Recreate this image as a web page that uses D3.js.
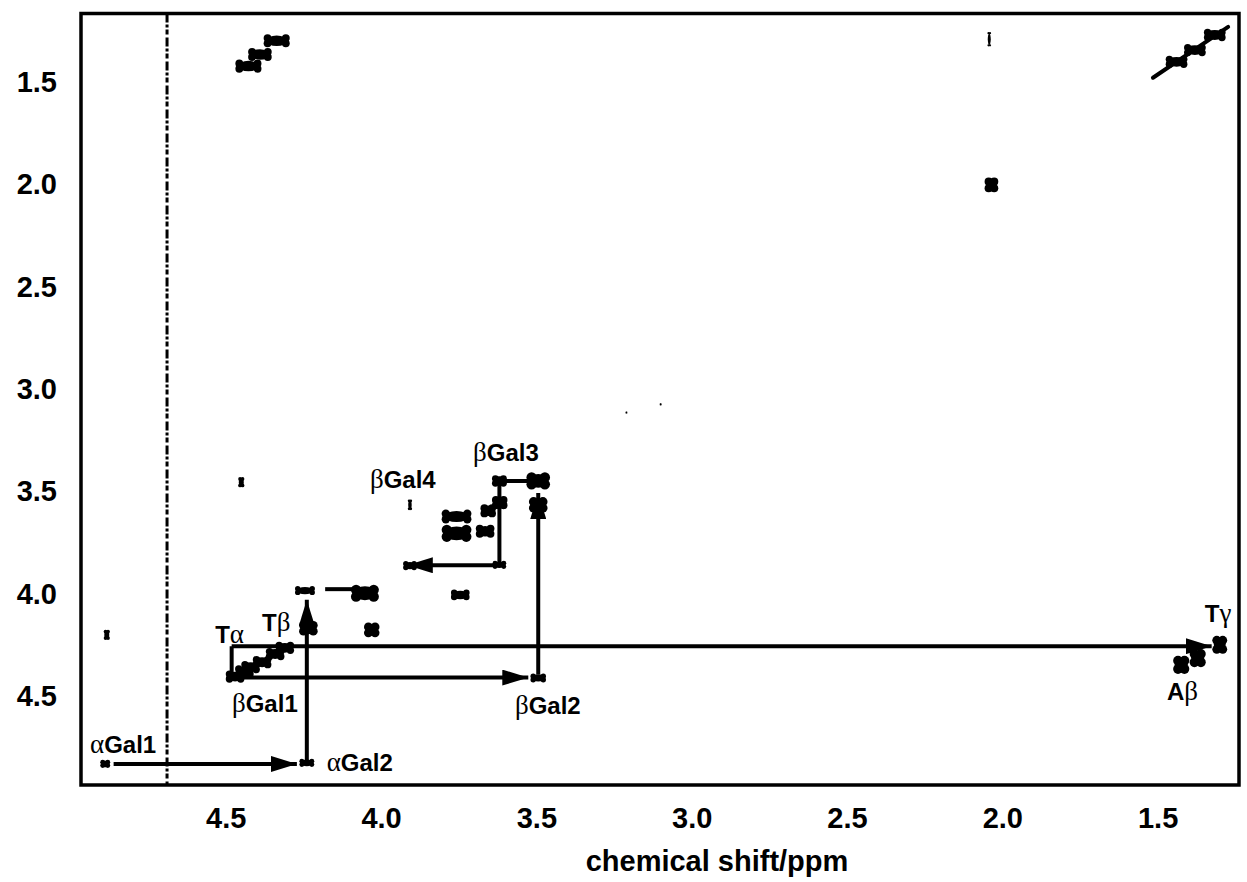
<!DOCTYPE html>
<html>
<head>
<meta charset="utf-8">
<script src="https://cdn.jsdelivr.net/npm/d3@7"></script>
<style>
  body { margin: 0; background: #fff; }
  svg text { font-family: "Liberation Sans", Arial, sans-serif; font-weight: bold; fill: #000; }
  .greek { font-family: "Liberation Serif", "DejaVu Serif", serif; font-weight: normal; }
</style>
</head>
<body>
<div id="container"></div>
<script>
// Ejes: desplazamiento químico (ppm), ambos invertidos como en un espectro 2D
const WIDTH = 1247;
const HEIGHT = 882;
const FRAME = { LEFT: 81, RIGHT: 1239, TOP: 13.5, BOTTOM: 785 };

const xTicksMajor = [4.5, 4.0, 3.5, 3.0, 2.5, 2.0, 1.5];
const xTicksMinor = [4.75, 4.25, 3.75, 3.25, 2.75, 2.25, 1.75];
const yTicksMajor = [1.5, 2.0, 2.5, 3.0, 3.5, 4.0, 4.5];
const yTicksMinor = [1.25, 1.75, 2.25, 2.75, 3.25, 3.75, 4.25, 4.75];
const xLabel = 'chemical shift/ppm';

// picos de correlación: [F2 ppm, F1 ppm, semiancho F2, semiancho F1]
const peakX  = [4.888, 4.239, 4.883, 4.336, 4.390, 4.427, 1.316, 1.380, 1.439, 2.042, 2.035,
                3.619, 3.494, 3.494, 3.618, 3.655, 3.757, 3.757, 3.665, 3.619, 3.907, 3.907,
                3.745, 4.245, 4.052, 4.030, 4.234, 4.470, 4.440, 4.420, 4.383, 4.341, 4.310,
                3.494, 1.300, 1.424, 1.371, 4.450, 3.210, 3.100];
const peakY  = [4.837, 4.832, 4.206, 1.303, 1.370, 1.427, 1.275, 1.349, 1.406, 1.296, 2.008,
                3.454, 3.454, 3.571, 3.560, 3.600, 3.628, 3.710, 3.700, 3.864, 3.868, 3.571,
                4.011, 3.990, 4.003, 4.182, 4.174, 4.410, 4.385, 4.364, 4.340, 4.300, 4.270,
                4.417, 4.255, 4.353, 4.320, 3.460, 3.120, 3.080];
const peakWx = [0.016, 0.024, 0.010, 0.042, 0.038, 0.042, 0.035, 0.035, 0.035, 0.006, 0.022,
                0.024, 0.038, 0.030, 0.025, 0.025, 0.048, 0.048, 0.030, 0.022, 0.022, 0.007,
                0.030, 0.032, 0.045, 0.025, 0.030, 0.030, 0.030, 0.030, 0.030, 0.030, 0.030,
                0.025, 0.024, 0.026, 0.026, 0.010, 0.003, 0.003];
const peakWy = [0.020, 0.020, 0.025, 0.032, 0.032, 0.032, 0.030, 0.030, 0.030, 0.035, 0.036,
                0.028, 0.042, 0.038, 0.032, 0.032, 0.034, 0.042, 0.032, 0.020, 0.022, 0.026,
                0.026, 0.022, 0.042, 0.036, 0.036, 0.030, 0.030, 0.030, 0.030, 0.030, 0.030,
                0.022, 0.044, 0.044, 0.044, 0.025, 0.005, 0.005];

// cresta diagonal arriba a la derecha
const diagRidge = [[1.515, 1.484], [1.273, 1.235]];
// señal de agua (HDO)
const waterShift = 4.689;

// conectividades: [x1, y1, x2, y2, flecha]
const arrows = [
  [4.861, 4.837, 4.271, 4.837, true],
  [4.239, 4.820, 4.239, 4.035, true],
  [4.180, 3.983, 4.089, 3.983, false],
  [4.481, 4.426, 4.481, 4.262, false],
  [4.481, 4.262, 1.326, 4.262, true],
  [4.497, 4.415, 3.526, 4.415, true],
  [3.494, 4.400, 3.494, 3.513, true],
  [3.619, 3.454, 3.494, 3.454, false],
  [3.619, 3.454, 3.619, 3.864, false],
  [3.619, 3.866, 3.917, 3.866, true]
];

// etiquetas de asignación
const labelGreek = ['α', 'α', 'T', 'T', 'β', 'β', 'β', 'β', 'T', 'A'];
const labelText  = ['Gal1', 'Gal2', 'α', 'β', 'Gal1', 'Gal2', 'Gal3', 'Gal4', 'γ', 'β'];
const labelGreekFirst = [true, true, false, false, true, true, true, true, false, false];
const labelX = [4.937, 4.175, 4.534, 4.383, 4.480, 3.569, 3.704, 4.036, 1.348, 1.470];
const labelY = [4.783, 4.871, 4.246, 4.187, 4.583, 4.593, 3.356, 3.488, 4.143, 4.524];

const x = d3.scaleLinear().domain([4.966, 1.238]).range([FRAME.LEFT, FRAME.RIGHT]);
const y = d3.scaleLinear().domain([1.170, 4.940]).range([FRAME.TOP, FRAME.BOTTOM]);

const svg = d3.select('#container')
              .append('svg')
                .attr('width', WIDTH)
                .attr('height', HEIGHT);

svg.append('defs').append('marker')
   .attr('id', 'head')
   .attr('markerUnits', 'userSpaceOnUse')
   .attr('viewBox', '0 0 26 16')
   .attr('refX', 26).attr('refY', 8)
   .attr('markerWidth', 26).attr('markerHeight', 16)
   .attr('orient', 'auto')
 .append('path')
   .attr('d', 'M0,0 L26,8 L0,16 Z')
   .attr('fill', '#000');

// línea de agua punteada
svg.append('line')
   .attr('x1', x(waterShift)).attr('x2', x(waterShift))
   .attr('y1', FRAME.TOP).attr('y2', FRAME.BOTTOM)
   .attr('stroke', '#000').attr('stroke-width', 3)
   .attr('stroke-dasharray', '9 2 3 2 5 3');

// cresta diagonal
svg.append('line')
   .attr('x1', x(diagRidge[0][0])).attr('y1', y(diagRidge[0][1]))
   .attr('x2', x(diagRidge[1][0])).attr('y2', y(diagRidge[1][1]))
   .attr('stroke', '#000').attr('stroke-width', 4).attr('stroke-linecap', 'round');

// picos: núcleo elíptico más cuatro lóbulos (borde festoneado del contorno)
const peaks = peakX.map((d, i) => ({ x: d, y: peakY[i], wx: peakWx[i], wy: peakWy[i] }));
const lobes = [[-1, -1], [1, -1], [-1, 1], [1, 1]];
svg.append('g').selectAll('g')
   .data(peaks)
   .join('g')
   .each(function(d) {
     const rx = x(d.x - d.wx) - x(d.x);
     const ry = y(d.y + d.wy) - y(d.y);
     const r = Math.min(rx, ry) * 0.6;
     const g = d3.select(this);
     g.append('ellipse')
       .attr('cx', x(d.x)).attr('cy', y(d.y))
       .attr('rx', rx * 0.8).attr('ry', ry * 0.8)
       .attr('fill', '#000');
     g.selectAll('circle')
       .data(lobes)
       .join('circle')
         .attr('cx', l => x(d.x) + l[0] * Math.max(rx - r, 0))
         .attr('cy', l => y(d.y) + l[1] * Math.max(ry - r, 0))
         .attr('r', r)
         .attr('fill', '#000');
   });

// conectividades
svg.append('g').selectAll('line')
   .data(arrows)
   .join('line')
     .attr('x1', d => x(d[0])).attr('y1', d => y(d[1]))
     .attr('x2', d => x(d[2])).attr('y2', d => y(d[3]))
     .attr('stroke', '#000').attr('stroke-width', 4)
     .attr('marker-end', d => d[4] ? 'url(#head)' : null);

// etiquetas
const labels = svg.append('g').selectAll('text')
   .data(labelText.map((t, i) => i))
   .join('text')
     .attr('x', i => x(labelX[i]))
     .attr('y', i => y(labelY[i]))
     .attr('font-size', 24);
labels.each(function(i) {
  const t = d3.select(this);
  if (labelGreekFirst[i]) {
    t.append('tspan').attr('class', 'greek').attr('font-size', 27).text(labelGreek[i]);
    t.append('tspan').text(labelText[i]);
  } else {
    t.append('tspan').text(labelGreek[i]);
    t.append('tspan').attr('class', 'greek').attr('font-size', 27).text(labelText[i]);
  }
});

// marco
svg.append('rect')
   .attr('x', FRAME.LEFT).attr('y', FRAME.TOP)
   .attr('width', FRAME.RIGHT - FRAME.LEFT)
   .attr('height', FRAME.BOTTOM - FRAME.TOP)
   .attr('fill', 'none').attr('stroke', '#000').attr('stroke-width', 3.5);

// eje x
const xAxis = svg.append('g').attr('transform', `translate(0,${FRAME.BOTTOM})`);
xAxis.call(d3.axisBottom(x).tickValues(xTicksMajor.concat(xTicksMinor))
            .tickSize(17).tickFormat(''));
xAxis.call(d3.axisBottom(x).tickValues(xTicksMajor).tickSize(0)
            .tickPadding(43).tickFormat(d3.format('.1f')));
xAxis.selectAll('.domain').remove();
xAxis.selectAll('line').attr('stroke-width', 3.5);
xAxis.selectAll('text').attr('font-size', 29).attr('dy', 0);

// eje y
const yAxis = svg.append('g').attr('transform', `translate(${FRAME.LEFT},0)`);
yAxis.call(d3.axisLeft(y).tickValues(yTicksMajor).tickSize(19).tickFormat(''));
yAxis.call(d3.axisLeft(y).tickValues(yTicksMinor).tickSize(12).tickFormat(''));
yAxis.call(d3.axisLeft(y).tickValues(yTicksMajor).tickSize(0)
            .tickPadding(24).tickFormat(d3.format('.1f')));
yAxis.selectAll('.domain').remove();
yAxis.selectAll('line').attr('stroke-width', 3.5);
yAxis.selectAll('text').attr('font-size', 29).attr('dy', '0.36em');

svg.append('text')
   .attr('x', 717).attr('y', 871)
   .attr('text-anchor', 'middle')
   .attr('font-size', 29)
   .text(xLabel);
</script>
</body>
</html>
